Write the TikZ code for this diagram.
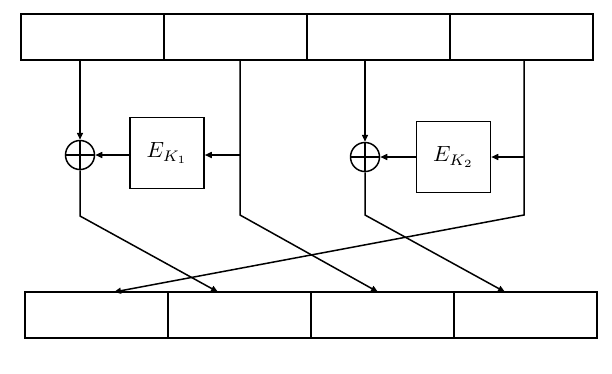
\documentclass[tikz,border=0pt]{standalone}
\usepackage{amsmath}
\usepackage{graphicx}
\usepackage{tikz}
\usetikzlibrary{positioning,arrows.meta,calc}
\newcommand{\enclbl}[1]{\scalebox{2.2}{$E_{K_{#1}}$}}

\begin{document}
\begin{tikzpicture}[x=1pt,y=-1pt,
  cell/.style={draw,line width=1.5pt,minimum width=143pt,minimum height=46pt,inner sep=0pt},
  enc/.style={draw,line width=1.5pt,minimum width=74pt,minimum height=71pt,inner sep=0pt},
  xorop/.style={draw,circle,line width=1.5pt,minimum size=29pt,inner sep=0pt,
    path picture={\draw[line width=1.5pt] (path picture bounding box.north) -- (path picture bounding box.south)
      (path picture bounding box.west) -- (path picture bounding box.east);}},
  arr/.style={line width=1.5pt,-{Triangle[length=7pt,width=6pt]}}
]
\useasboundingbox (0,0) rectangle (612,373);
% input block
\node[cell] (t1) at (92.5,37) {};
\node[cell] (t2) at (235.5,37) {};
\node[cell] (t3) at (378.5,37) {};
\node[cell] (t4) at (521.5,37) {};
% output block
\node[cell] (b1) at (96.5,315) {};
\node[cell] (b2) at (239.5,315) {};
\node[cell] (b3) at (382.5,315) {};
\node[cell] (b4) at (525.5,315) {};
% round functions
\node[xorop] (x1) at (80,155) {};
\node[enc] (E1) at (167,153) {\enclbl{1}};
\node[xorop] (x2) at (365,157) {};
\node[enc] (E2) at (453.5,157) {\enclbl{2}};
% bend points and arrow ends
\coordinate (k1) at (80,216);
\coordinate (k2) at (240,215);
\coordinate (k3) at (365,215);
\coordinate (k4) at (524,215);
\coordinate (e1) at (218,292);
\coordinate (e2) at (378,292);
\coordinate (e3) at (505,292);
\coordinate (e4) at (114,292);

\draw[arr] (x1 |- t1.south) -- (x1.north);
\draw[arr] (x2 |- t3.south) -- (x2.north);
\draw[arr] (E1.west |- x1) -- (x1.east);
\draw[arr] (E2.west |- x2) -- (x2.east);
\draw[arr] (k2 |- x1) -- (E1.east |- x1);
\draw[arr] (k4 |- x2) -- (E2.east |- x2);

\draw[arr] (x1.south) -- (k1) -- (e1);
\draw[arr] (k2 |- t2.south) -- (k2) -- (e2);
\draw[arr] (x2.south) -- (k3) -- (e3);
\draw[arr] (k4 |- t4.south) -- (k4) -- (e4);
\end{tikzpicture}
\end{document}
